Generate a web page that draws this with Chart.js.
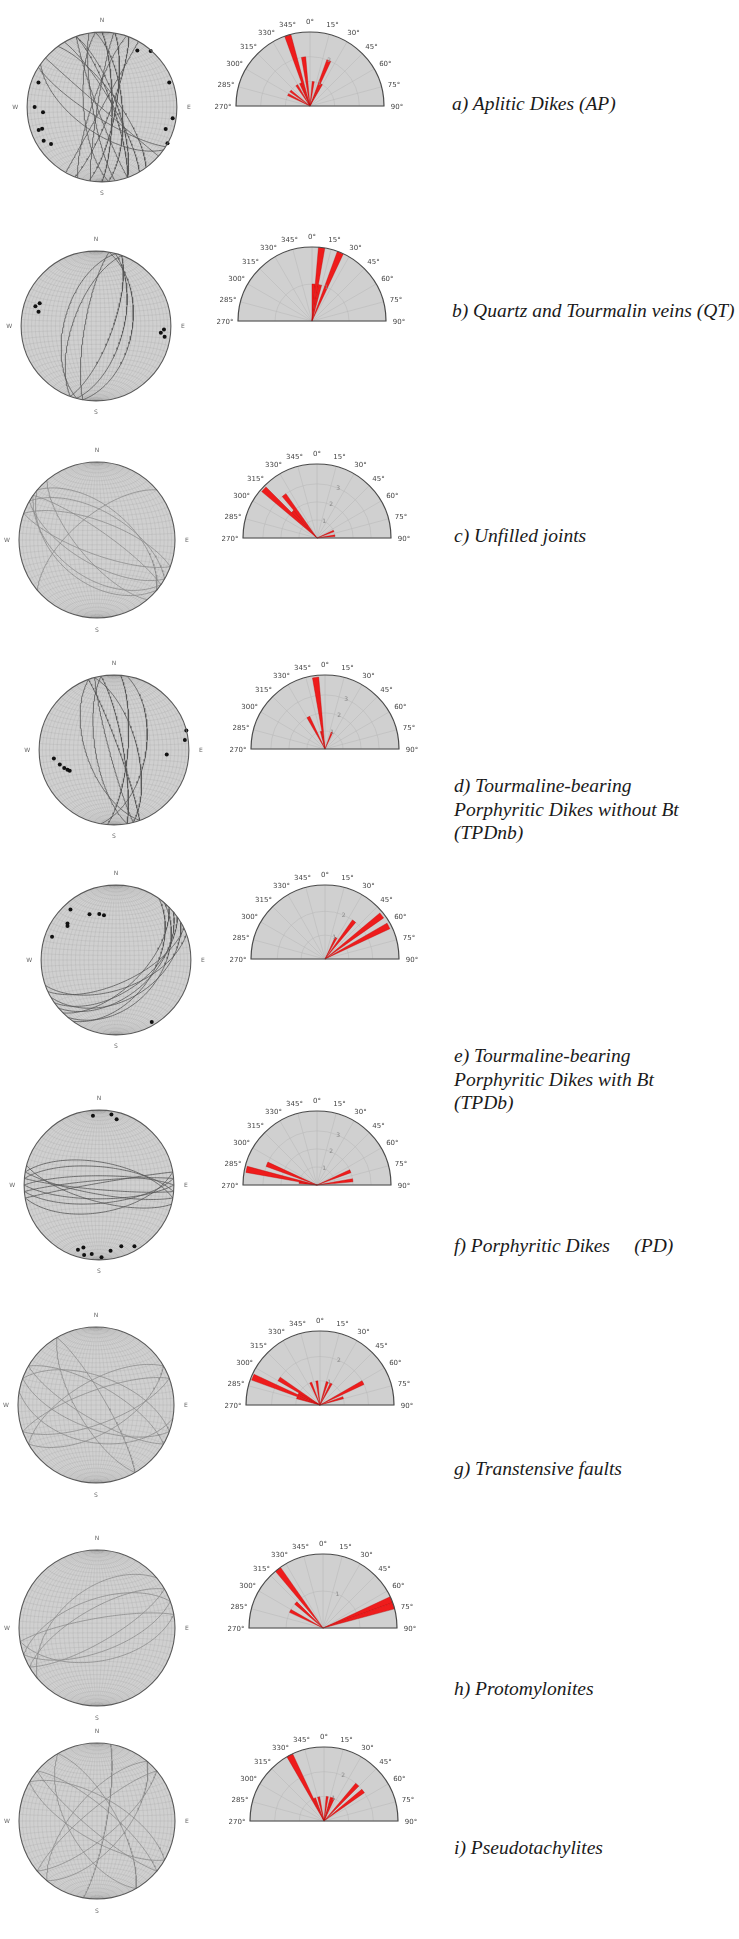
<!DOCTYPE html>
<html>
<head>
<meta charset="utf-8">
<script src="https://cdn.jsdelivr.net/npm/chart.js@4.4.0/dist/chart.umd.min.js"></script>
<style>
  body { margin: 0; background: #fff; width: 739px; height: 1939px; position: relative; overflow: hidden; }
  canvas { position: absolute; }
  .lbl { position: absolute; font-family: "Liberation Serif", "Times New Roman", serif; font-style: italic;
         font-size: 19.5px; line-height: 23.5px; color: #1a1a1a; white-space: nowrap; }
</style>
</head>
<body>
<script>
const D = Math.PI / 180;

// planes: dip direction / dip (deg); poles: trend / plunge (deg)
// rose: counts per 5 deg bin, starting at 270 and running clockwise to 90
const apDipDir = [212, 221, 250, 279, 289, 299, 111, 90, 85, 70, 70, 60, 54, 260, 100, 265, 215];
const apDip    = [78, 89, 85, 85, 79, 90, 80, 79, 68, 74, 79, 79, 73, 80, 75, 70, 62];
const apPoleTrend  = [32, 41, 70, 99, 109, 119, 291, 270, 265, 250, 250, 240, 234];
const apPolePlunge = [12, 1, 5, 5, 11, 0, 10, 11, 22, 16, 11, 11, 17];
const apRose = [0, 0, 0, 0, 0, 1,   0, 1, 0, 0, 0, 1,   0, 1, 3, 0, 2, 0,
                0, 1, 0, 0, 2, 1,   0, 0, 0, 0, 0, 0,   0, 0, 0, 0, 0, 0];

const qtDipDir = [100, 105, 110, 285, 290, 280];
const qtDip    = [50, 60, 72, 55, 65, 78];
const qtPoleTrend  = [292, 288, 284, 93, 96, 99];
const qtPolePlunge = [20, 16, 22, 10, 14, 8];
const qtRose = [0, 0, 0, 0, 0, 0,   0, 0, 0, 0, 0, 0,   0, 0, 0, 0, 0, 0,
                1, 2, 1, 0, 2, 0,   0, 0, 0, 0, 0, 0,   0, 0, 0, 0, 0, 0];

const ujDipDir = [30, 40, 20, 210, 200, 220, 230, 320, 35, 215];
const ujDip    = [60, 55, 70, 65, 75, 45, 70, 65, 80, 50];
const ujRose = [0, 0, 0, 0, 0, 0,   0, 0, 4, 2, 3, 0,   0, 0, 0, 0, 0, 0,
                0, 0, 0, 0, 0, 0,   0, 0, 0, 0, 0, 0,   0, 1, 0, 0, 1, 0];

const tnDipDir = [70, 80, 250, 255, 95, 260, 100, 75];
const tnDip    = [85, 80, 60, 85, 75, 70, 55, 65];
const tnPoleTrend  = [250, 255, 262, 245, 247, 95, 75, 82];
const tnPolePlunge = [30, 26, 20, 35, 33, 30, 0, 5];
const tnRose = [0, 0, 0, 0, 0, 0,   0, 0, 0, 0, 0, 0,   2, 0, 0, 1, 4, 0,
                0, 0, 0, 0, 1, 0,   0, 0, 0, 0, 0, 0,   0, 0, 0, 0, 0, 0];

const tbDipDir = [140, 145, 150, 135, 130, 155, 160, 125];
const tbDip    = [50, 55, 45, 60, 40, 65, 58, 48];
const tbPoleTrend  = [318, 305, 307, 290, 340, 330, 345, 150];
const tbPolePlunge = [10, 22, 20, 10, 35, 30, 38, 5];
const tbRose = [0, 0, 0, 0, 0, 0,   0, 0, 0, 0, 0, 0,   0, 0, 0, 0, 0, 0,
                0, 0, 0, 0, 0, 1,   0, 2, 0, 0, 3, 0,   3, 0, 0, 0, 0, 0];

const pdDipDir = [0, 5, 355, 10, 180, 185, 175, 190, 170, 350, 195];
const pdDip    = [80, 70, 85, 65, 75, 85, 70, 80, 60, 88, 72];
const pdPoleTrend  = [355, 10, 15, 198, 192, 194, 186, 178, 170, 150, 160];
const pdPolePlunge = [8, 5, 10, 10, 5, 15, 8, 4, 12, 6, 14];
const pdRose = [0, 1, 4, 0, 3, 0,   0, 0, 0, 0, 0, 0,   0, 0, 0, 0, 0, 0,
                0, 0, 0, 0, 0, 0,   0, 0, 0, 0, 0, 0,   0, 2, 0, 0, 2, 0];

const tfDipDir = [20, 30, 200, 210, 150, 160, 330, 340, 60, 240, 190];
const tfDip    = [60, 70, 65, 75, 60, 70, 65, 75, 80, 70, 50];
const tfRose = [0, 0, 0, 1, 3, 1,   2, 0, 0, 0, 0, 0,   0, 1, 0, 0, 1, 0,
                0, 0, 0, 1, 0, 1,   0, 0, 0, 0, 0, 0,   2, 0, 1, 0, 0, 0];

const pmDipDir = [330, 340, 150, 160, 350, 170, 320];
const pmDip    = [70, 60, 75, 65, 80, 55, 50];
const pmRose = [0, 0, 0, 0, 0, 1,   0, 0, 1, 0, 2, 0,   0, 0, 0, 0, 0, 0,
                0, 0, 0, 0, 0, 0,   0, 0, 0, 0, 0, 0,   0, 2, 2, 0, 0, 0];

const ptDipDir = [30, 40, 210, 220, 130, 140, 310, 320, 60, 240, 100];
const ptDip    = [65, 75, 70, 80, 60, 72, 65, 78, 70, 60, 80];
const ptRose = [0, 0, 0, 0, 0, 0,   0, 0, 0, 0, 0, 0,   3, 1, 0, 1, 0, 0,
                0, 1, 0, 1, 1, 0,   0, 0, 2, 0, 2, 0,   0, 0, 0, 0, 0, 0];

const labels = [
  ['a) Aplitic Dikes (AP)'],
  ['b) Quartz and Tourmalin veins (QT)'],
  ['c) Unfilled joints'],
  ['d) Tourmaline-bearing', 'Porphyritic Dikes without Bt', '(TPDnb)'],
  ['e) Tourmaline-bearing', 'Porphyritic Dikes with Bt', '(TPDb)'],
  ['f) Porphyritic Dikes\u00a0\u00a0\u00a0\u00a0\u00a0(PD)'],
  ['g) Transtensive faults'],
  ['h) Protomylonites'],
  ['i) Pseudotachylites']
];

const panels = [
  { dd: apDipDir, dip: apDip, pt: apPoleTrend, pp: apPolePlunge, rose: apRose, max: 3 },
  { dd: qtDipDir, dip: qtDip, pt: qtPoleTrend, pp: qtPolePlunge, rose: qtRose, max: 2 },
  { dd: ujDipDir, dip: ujDip, pt: [], pp: [], rose: ujRose, max: 4.1 },
  { dd: tnDipDir, dip: tnDip, pt: tnPoleTrend, pp: tnPolePlunge, rose: tnRose, max: 4.1 },
  { dd: tbDipDir, dip: tbDip, pt: tbPoleTrend, pp: tbPolePlunge, rose: tbRose, max: 3.1 },
  { dd: pdDipDir, dip: pdDip, pt: pdPoleTrend, pp: pdPolePlunge, rose: pdRose, max: 4.1 },
  { dd: tfDipDir, dip: tfDip, pt: [], pp: [], rose: tfRose, max: 3.05 },
  { dd: pmDipDir, dip: pmDip, pt: [], pp: [], rose: pmRose, max: 2 },
  { dd: ptDipDir, dip: ptDip, pt: [], pp: [], rose: ptRose, max: 3 }
];

// layout (page pixels)
const netX  = [102, 96, 97, 114, 116, 99, 96, 97, 97];
const netY  = [107, 326, 540, 750, 960, 1185, 1405, 1628, 1821];
const roseX = [310, 312, 317, 325, 325, 317, 320, 323, 324];
const roseY = [106, 321, 538, 749, 959, 1185, 1405, 1628, 1821];
const lblX  = [452, 452, 454, 454, 454, 454, 454, 454, 454];
const lblTop = [92, 299, 524, 774, 1044, 1234, 1457, 1677, 1836];
const lineCol = ['#555', '#555', '#8a8a8a', '#555', '#555', '#555', '#8a8a8a', '#8a8a8a', '#8a8a8a'];
const NET_R = 78;

// lower-hemisphere equal-area projection
function project(trend, plunge) {
  const rho = Math.SQRT2 * Math.sin((90 - plunge) * D / 2);
  return { x: rho * Math.sin(trend * D), y: rho * Math.cos(trend * D) };
}
function vecPoint(n, e, z) {
  if (z < 0) { n = -n; e = -e; z = -z; }
  return project(Math.atan2(e, n) / D, Math.asin(Math.min(1, z)) / D);
}
function greatCircle(dd, dip) {
  const s = (dd - 90) * D, d = dd * D, p = dip * D, pts = [];
  for (let a = 0; a <= 180; a += 2) {
    const c = Math.cos(a * D), k = Math.sin(a * D);
    pts.push(vecPoint(c * Math.cos(s) + k * Math.cos(p) * Math.cos(d),
                      c * Math.sin(s) + k * Math.cos(p) * Math.sin(d),
                      k * Math.sin(p)));
  }
  return pts;
}
function smallCircle(alpha) {
  const pts = [];
  for (let f = 0; f <= 180; f += 3) {
    pts.push(vecPoint(Math.cos(alpha * D), Math.sin(alpha * D) * Math.cos(f * D), Math.sin(alpha * D) * Math.sin(f * D)));
  }
  return pts;
}

const netGrid = [];
for (let d = 5; d <= 90; d += 5) { netGrid.push(greatCircle(90, d)); if (d < 90) netGrid.push(greatCircle(270, d)); }
for (let a = 5; a < 180; a += 5) netGrid.push(smallCircle(a));

const netPlugin = {
  id: 'net',
  beforeDatasetsDraw(chart) {
    const { ctx, scales: { x, y } } = chart;
    const cx = x.getPixelForValue(0), cy = y.getPixelForValue(0), R = x.getPixelForValue(1) - cx;
    ctx.save();
    ctx.beginPath(); ctx.arc(cx, cy, R, 0, 2 * Math.PI);
    ctx.fillStyle = '#d0d0d0'; ctx.fill(); ctx.clip();
    ctx.strokeStyle = 'rgba(140,140,140,0.3)'; ctx.lineWidth = 0.5;
    netGrid.forEach(pts => {
      ctx.beginPath();
      pts.forEach((p, i) => {
        const px = x.getPixelForValue(p.x), py = y.getPixelForValue(p.y);
        i ? ctx.lineTo(px, py) : ctx.moveTo(px, py);
      });
      ctx.stroke();
    });
    ctx.restore();
  },
  afterDatasetsDraw(chart) {
    const { ctx, scales: { x, y } } = chart;
    const cx = x.getPixelForValue(0), cy = y.getPixelForValue(0), R = x.getPixelForValue(1) - cx;
    ctx.save();
    ctx.beginPath(); ctx.arc(cx, cy, R, 0, 2 * Math.PI);
    ctx.strokeStyle = '#5a5a5a'; ctx.lineWidth = 1.1; ctx.stroke();
    ctx.fillStyle = '#666'; ctx.font = '6px "DejaVu Sans"';
    ctx.textAlign = 'center'; ctx.textBaseline = 'middle';
    ctx.fillText('N', cx, cy - R - 12);
    ctx.fillText('S', cx, cy + R + 12);
    ctx.fillText('W', cx - R - 12, cy);
    ctx.fillText('E', cx + R + 12, cy);
    ctx.restore();
  }
};

const rosePlugin = {
  id: 'roseFrame',
  beforeDatasetsDraw(chart) {
    const { ctx } = chart, s = chart.scales.r;
    const cx = s.xCenter, cy = s.yCenter, R = s.drawingArea;
    ctx.save();
    ctx.beginPath(); ctx.moveTo(cx - R, cy); ctx.arc(cx, cy, R, Math.PI, 2 * Math.PI); ctx.closePath();
    ctx.fillStyle = '#d0d0d0'; ctx.fill();
    ctx.strokeStyle = 'rgba(185,185,185,0.9)'; ctx.lineWidth = 0.6;
    for (let az = -90; az <= 90; az += 15) {
      const t = (az - 90) * D;
      ctx.beginPath(); ctx.moveTo(cx, cy); ctx.lineTo(cx + R * Math.cos(t), cy + R * Math.sin(t)); ctx.stroke();
    }
    for (let v = 1; v < s.max - 0.2; v++) {
      const r = s.getDistanceFromCenterForValue(v);
      ctx.beginPath(); ctx.arc(cx, cy, r, Math.PI, 2 * Math.PI); ctx.stroke();
    }
    ctx.restore();
  },
  afterDatasetsDraw(chart) {
    const { ctx } = chart, s = chart.scales.r;
    const cx = s.xCenter, cy = s.yCenter, R = s.drawingArea;
    ctx.save();
    ctx.beginPath(); ctx.moveTo(cx - R, cy); ctx.arc(cx, cy, R, Math.PI, 2 * Math.PI); ctx.closePath();
    ctx.strokeStyle = '#4a4a4a'; ctx.lineWidth = 1.2; ctx.stroke();
    ctx.fillStyle = '#444'; ctx.font = '7px "DejaVu Sans"';
    ctx.textAlign = 'center'; ctx.textBaseline = 'middle';
    for (let az = -90; az <= 90; az += 15) {
      const t = (az - 90) * D;
      ctx.fillText(((az + 360) % 360) + '\u00b0', cx + (R + 13) * Math.cos(t), cy + (R + 11) * Math.sin(t) + 1);
    }
    ctx.fillStyle = '#888'; ctx.font = '6px "DejaVu Sans"';
    const t = (23 - 90) * D;
    for (let v = 1; v < s.max - 0.5; v++) {
      const r = s.getDistanceFromCenterForValue(v);
      ctx.fillText(String(v), cx + r * Math.cos(t), cy + r * Math.sin(t));
    }
    ctx.restore();
  }
};

function place(el, left, top, w, h) {
  el.style.left = left + 'px'; el.style.top = top + 'px';
  if (w) { el.width = w; el.height = h; }
  document.body.appendChild(el);
  return el;
}

const base = {
  responsive: false, animation: false, events: [],
  plugins: { legend: { display: false }, tooltip: { enabled: false } }
};

panels.forEach((p, i) => {
  // stereonet
  const L = 100 / NET_R;
  const net = place(document.createElement('canvas'), netX[i] - 100, netY[i] - 100, 200, 200);
  const datasets = p.dd.map((dd, k) => ({
    data: greatCircle(dd, p.dip[k]), showLine: true, pointRadius: 0,
    borderColor: lineCol[i], borderWidth: 0.8, fill: false
  }));
  if (p.pt.length) {
    datasets.unshift({
      data: p.pt.map((t, k) => project(t, p.pp[k])),
      pointRadius: 2, pointBackgroundColor: '#111', pointBorderWidth: 0
    });
  }
  new Chart(net, {
    type: 'scatter',
    data: { datasets },
    options: Object.assign({}, base, {
      layout: { padding: 0 },
      scales: { x: { min: -L, max: L, display: false }, y: { min: -L, max: L, display: false } }
    }),
    plugins: [netPlugin]
  });

  // rose diagram (upper half only)
  const rose = place(document.createElement('canvas'), roseX[i] - 100, roseY[i] - 100, 200, 200);
  const counts = p.rose.concat(new Array(36).fill(0));
  new Chart(rose, {
    type: 'polarArea',
    data: {
      labels: counts.map((_, k) => ((270 + 5 * k) % 360) + '\u00b0'),
      datasets: [{ data: counts, backgroundColor: '#ee1c1c', borderColor: 'rgba(190,0,0,0.7)', borderWidth: 0.5 }]
    },
    options: Object.assign({}, base, {
      layout: { padding: 26 },
      scales: { r: { min: 0, max: p.max, startAngle: -90,
        ticks: { display: false }, grid: { display: false }, angleLines: { display: false },
        pointLabels: { display: false } } }
    }),
    plugins: [rosePlugin]
  });

  // caption
  const div = document.createElement('div');
  div.className = 'lbl';
  div.innerHTML = labels[i].join('<br>');
  place(div, lblX[i], lblTop[i]);
});
</script>
</body>
</html>
